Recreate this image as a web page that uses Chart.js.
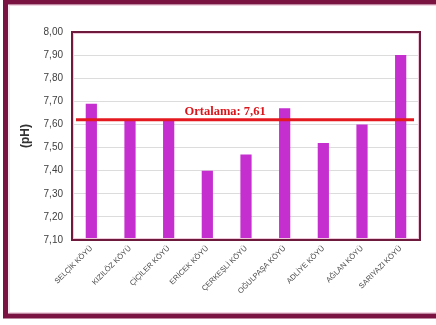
<!DOCTYPE html>
<html>
<head>
<meta charset="utf-8">
<script src="https://cdn.jsdelivr.net/npm/chart.js@4/dist/chart.umd.min.js"></script>
<style>
  html, body { margin: 0; padding: 0; background: #ffffff; }
  canvas { display: block; }
</style>
</head>
<body>
<canvas id="chart" width="436" height="325"></canvas>
<script>
const villages = ['SELÇİK KÖYÜ', 'KIZILÖZ KÖYÜ', 'ÇİÇİLER KÖYÜ', 'ERİCEK KÖYÜ', 'ÇERKEŞLİ KÖYÜ',
  'OĞULPAŞA KÖYÜ', 'ADLİYE KÖYÜ', 'AĞLAN KÖYÜ', 'SARIYAZI KÖYÜ'];
const phValues = [7.69, 7.62, 7.62, 7.40, 7.47, 7.67, 7.52, 7.60, 7.90];
const meanLine = 7.62;
const meanLabel = 'Ortalama: 7,61';
const yMin = 7.1;
const yMax = 8.0;

// frame, plot border and the average line
const decor = {
  id: 'decor',
  beforeDraw(chart) {
    const ctx = chart.ctx;
    ctx.save();
    ctx.fillStyle = '#ffffff';
    ctx.fillRect(0, 0, chart.width, chart.height);
    ctx.restore();
  },
  afterDatasetsDraw(chart) {
    const ctx = chart.ctx;
    const a = chart.chartArea;
    const y = chart.scales.y.getPixelForValue(meanLine);
    ctx.save();
    // plot border
    ctx.strokeStyle = '#f0c8dc';
    ctx.lineWidth = 1;
    ctx.strokeRect(a.left + 1.5, a.top + 1.5, a.right - a.left - 3, a.bottom - a.top - 3);
    ctx.strokeStyle = '#6d1a3c';
    ctx.lineWidth = 2;
    ctx.strokeRect(a.left, a.top, a.right - a.left, a.bottom - a.top);
    // mean line
    ctx.strokeStyle = '#e3191f';
    ctx.lineWidth = 3;
    ctx.beginPath();
    ctx.moveTo(a.left + 4, y);
    ctx.lineTo(a.right - 6, y);
    ctx.stroke();
    ctx.fillStyle = '#d9161c';
    ctx.font = 'bold 12.5px "Liberation Serif", serif';
    ctx.textAlign = 'center';
    ctx.textBaseline = 'alphabetic';
    ctx.fillText(meanLabel, a.left + (a.right - a.left) * 0.44, y - 5);
    // outer frame
    ctx.strokeStyle = '#f2d4e2';
    ctx.lineWidth = 1;
    ctx.strokeRect(9, 5.5, 440, 307);
    ctx.strokeStyle = '#7a1242';
    ctx.lineWidth = 5;
    ctx.strokeRect(5.5, 2, 440, 314);
    ctx.restore();
  }
};

new Chart(document.getElementById('chart'), {
  type: 'bar',
  data: {
    labels: villages,
    datasets: [{
      data: phValues,
      backgroundColor: '#c52fd0',
      borderWidth: 0,
      barPercentage: 0.29,
      categoryPercentage: 1
    }]
  },
  options: {
    responsive: false,
    animation: false,
    layout: { padding: { top: 32, right: 16, bottom: 0, left: 0 } },
    plugins: {
      legend: { display: false },
      tooltip: { enabled: false }
    },
    scales: {
      x: {
        grid: { display: false, drawTicks: false },
        border: { display: false },
        ticks: {
          color: '#4a4a4a',
          font: { family: '"Liberation Sans", Arial, sans-serif', size: 7.5 },
          minRotation: 45,
          maxRotation: 45,
          padding: 4,
          autoSkip: false
        },
        afterFit(scale) { scale.height = 85; }
      },
      y: {
        min: yMin,
        max: yMax,
        grid: { color: '#dcdcdc', lineWidth: 1, drawTicks: false },
        border: { display: false },
        ticks: {
          stepSize: 0.1,
          color: '#404040',
          padding: 9,
          font: { family: '"Liberation Sans", Arial, sans-serif', size: 10 },
          callback: v => v.toFixed(2).replace('.', ',')
        },
        title: {
          display: true,
          text: '(pH)',
          color: '#333333',
          font: { family: '"Liberation Sans", Arial, sans-serif', size: 12, weight: 'bold' },
          padding: { top: 18, bottom: 0 }
        },
        afterFit(scale) { scale.width = 72; }
      }
    }
  },
  plugins: [decor]
});
</script>
</body>
</html>
